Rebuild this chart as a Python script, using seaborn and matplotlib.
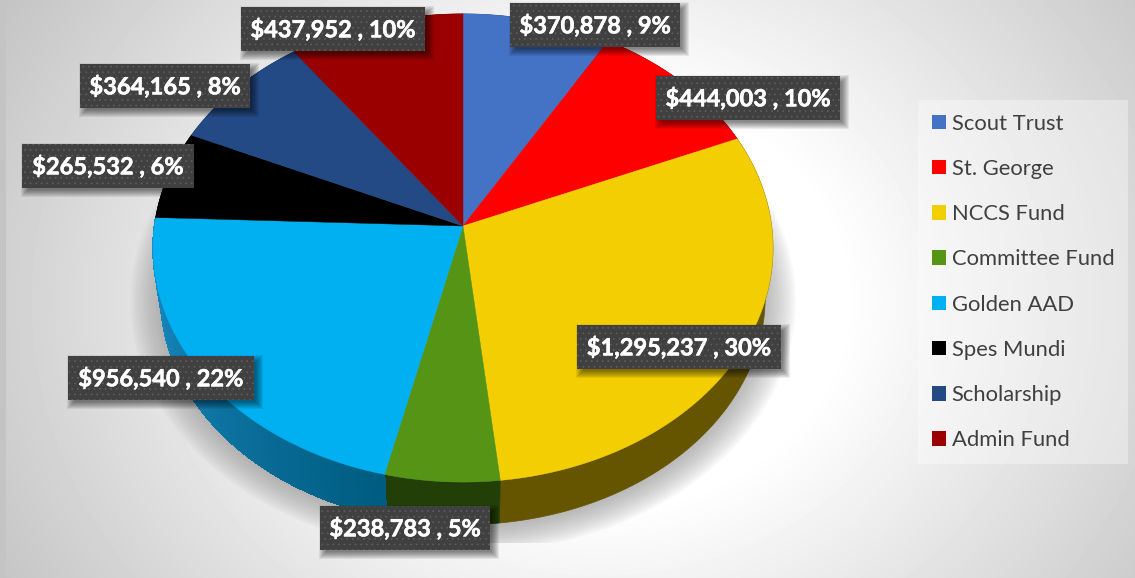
import numpy as np
import matplotlib
matplotlib.use("Agg")
import matplotlib.pyplot as plt
import matplotlib.patheffects as pe
from matplotlib.colors import to_rgb
from matplotlib.patches import Polygon, Rectangle
import seaborn as sns

# chart data
funds = ["Scout Trust", "St. George", "NCCS Fund", "Committee Fund",
         "Golden AAD", "Spes Mundi", "Scholarship", "Admin Fund"]
amounts = [370878, 444003, 1295237, 238783, 956540, 265532, 364165, 437952]
percents = [9, 10, 30, 5, 22, 6, 8, 10]
top_colors = ["#4472C4", "#FF0000", "#F2CE02", "#559414",
              "#00B0F0", "#000000", "#234A84", "#9B0000"]
side_start = ["#2A4A80", "#800000", "#665500", "#223F08",
              "#1C90CA", "#000000", "#12284A", "#500000"]
side_end = ["#2A4A80", "#800000", "#665500", "#223F08",
            "#005C80", "#000000", "#12284A", "#500000"]
label_spots = [(595, 25), (748, 98), (679, 347), (405, 528),
               (161, 378), (108, 166), (165, 86), (333, 29)]

sns.set_theme(style="white")
plt.rcParams["font.family"] = ["Lato", "DejaVu Sans"]
palette = sns.color_palette(top_colors)

W, H = 1135, 578
fig = plt.figure(figsize=(W / 100, H / 100), dpi=100)
ax = fig.add_axes([0, 0, 1, 1])

# let the library work out the slice angles, then tilt them by hand
wedges, _ = ax.pie(amounts, colors=palette, startangle=90, counterclock=False)
angles = [(w.theta1, w.theta2) for w in wedges]
for w in wedges:
    w.remove()
ax.set_aspect("auto")
ax.axis("off")

CX, CY = 463, 226


def tilt(theta_deg, scale=1.0, dy=0.0):
    t = np.radians(theta_deg)
    u, v = np.cos(t), np.sin(t)
    w = 1 + 0.094 * v
    return CX + scale * 308.6 * u / w, CY + dy - scale * 232 * v / w


# background glow
yy, xx = np.mgrid[0:H, 0:W]
dist = np.hypot((xx - 600) / 640, (yy - 300) / 540)
shade = np.clip(1 - 0.33 * (dist - 0.38), 0.76, 1)
ax.imshow(shade, cmap="gray", vmin=0, vmax=1, extent=(0, W, H, 0),
          aspect="auto", zorder=0)
ax.set_xlim(0, W)
ax.set_ylim(H, 0)
ax.add_patch(Rectangle((0, 0), 6, H, fc="#C4C4C4", ec="none", zorder=0.5))

# soft shadow under the pie, cut off flat at the bottom
ring = np.linspace(0, 360, 240)
cut = Rectangle((0, 0), W, 543, transform=ax.transData)
for grow in np.linspace(1.09, 0.99, 14):
    sx, sy = tilt(ring, 0.985 * grow, 52)
    p = Polygon(np.c_[sx, sy], fc="#909090", ec="none", alpha=0.06, zorder=1)
    ax.add_patch(p)
    p.set_clip_path(cut)

# side wall, split into strips where the colour darkens along the arc
for (t1, t2), c0, c1 in zip(angles, side_start, side_end):
    n = 1 if c0 == c1 else 60
    edges = np.linspace(t1, t2, n + 1)
    for i in range(n):
        th = np.linspace(edges[i], edges[i + 1], 100 // n + 3)
        x1, y1 = tilt(th)
        x2, y2 = tilt(th, 0.975, 49)
        f = i / max(n - 1, 1)
        col = tuple((1 - f) * a + f * b for a, b in zip(to_rgb(c0), to_rgb(c1)))
        ax.add_patch(Polygon(np.r_[np.c_[x1, y1], np.c_[x2, y2][::-1]],
                             fc=col, ec=col, lw=0.5, zorder=2, antialiased=(n == 1)))

# top face
for (t1, t2), col in zip(angles, palette):
    th = np.linspace(t1, t2, 100)
    x1, y1 = tilt(th)
    pts = np.r_[[[CX, CY]], np.c_[x1, y1]]
    ax.add_patch(Polygon(pts, fc=col, ec=col, lw=0.3, zorder=3))

# data labels
plt.rcParams["hatch.linewidth"] = 0.5
labels = []
for amt, pct, (lx, ly) in zip(amounts, percents, label_spots):
    txt = ax.text(lx, ly, f"${amt:,} , {pct}%", color="white", weight="bold",
                  fontsize=17, ha="center", va="center", zorder=6,
                  bbox=dict(boxstyle="square,pad=0.42", fc="#404040", ec="#5E5E5E",
                            lw=0, hatch="..."))
    txt.set_path_effects([pe.withStroke(linewidth=0.4, foreground="white")])
    labels.append(txt)

# label shadows go right behind each box
fig.canvas.draw()
renderer = fig.canvas.get_renderer()
for txt in labels:
    box = txt.get_bbox_patch().get_window_extent(renderer)
    bx0, by0 = ax.transData.inverted().transform((box.x0, box.y0))
    bx1, by1 = ax.transData.inverted().transform((box.x1, box.y1))
    for g in range(-2, 6):
        ax.add_patch(Rectangle((bx0 + 4 - g, by1 + 4 - g), bx1 - bx0 + 2 * g, by0 - by1 + 2 * g,
                               fc="black", ec="none", alpha=0.07, zorder=5))

# legend
handles = [Rectangle((0, 0), 1, 1, fc=c, ec="none") for c in palette]
leg = ax.legend(handles, funds, loc="upper left", bbox_to_anchor=(918 / W, 1 - 100 / H),
                bbox_transform=ax.transAxes, frameon=True, fontsize=15.8, fancybox=False,
                facecolor="white", edgecolor="none", framealpha=0.35, labelcolor="#404040",
                handlelength=0.64, handleheight=0.64, handletextpad=0.27, labelspacing=1.15,
                borderpad=0.62, borderaxespad=0)
leg.set_zorder(5)

fig.savefig("out.png", dpi=100)
